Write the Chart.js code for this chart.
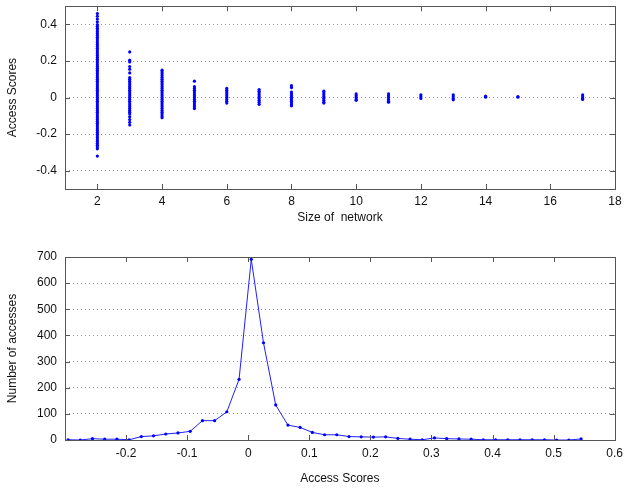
<!DOCTYPE html>
<html>
<head>
<meta charset="utf-8">
<script src="https://cdn.jsdelivr.net/npm/chart.js@4.4.1/dist/chart.umd.min.js"></script>
<style>
  body { margin: 0; background: #fff; overflow: hidden; }
  #top { position: absolute; left: 0; top: -9px; }
  #bottom { position: absolute; left: 0; top: 240px; }
</style>
</head>
<body>
<canvas id="top" width="629" height="244"></canvas>
<canvas id="bottom" width="629" height="249"></canvas>
<script>
// top plot: access scores per network size
const scores2 = [0.46, 0.445, 0.43, 0.415, 0.40, 0.39, 0.38, 0.37, 0.36, 0.35, 0.34, 0.33, 0.32, 0.31, 0.30,
  0.29, 0.28, 0.27, 0.26, 0.25, 0.24, 0.23, 0.22, 0.21, 0.20, 0.19, 0.18, 0.17, 0.16, 0.15, 0.14, 0.13,
  0.12, 0.11, 0.10, 0.09, 0.08, 0.07, 0.06, 0.05, 0.04, 0.03, 0.02, 0.01, 0.00, -0.01, -0.02, -0.03,
  -0.04, -0.05, -0.06, -0.07, -0.08, -0.09, -0.10, -0.11, -0.12, -0.13, -0.14, -0.15, -0.16, -0.17,
  -0.18, -0.19, -0.20, -0.21, -0.22, -0.23, -0.24, -0.25, -0.26, -0.27, -0.28, -0.32];
const scores3 = [0.25, 0.205, 0.195, 0.17, 0.155, 0.135, 0.11, 0.10, 0.09, 0.08, 0.07, 0.06, 0.05, 0.04,
  0.03, 0.02, 0.01, 0.00, -0.01, -0.02, -0.03, -0.04, -0.05, -0.06, -0.07, -0.08, -0.09, -0.105, -0.12,
  -0.135, -0.15];
const scores4 = [0.15, 0.14, 0.13, 0.12, 0.11, 0.10, 0.09, 0.08, 0.07, 0.06, 0.05, 0.04, 0.03, 0.02, 0.01,
  0.00, -0.01, -0.02, -0.03, -0.04, -0.05, -0.06, -0.07, -0.08, -0.09, -0.10, -0.11];
const scores5 = [0.09, 0.06, 0.05, 0.04, 0.03, 0.02, 0.01, 0.00, -0.01, -0.02, -0.03, -0.04, -0.05, -0.06];
const scores6 = [0.05, 0.04, 0.03, 0.02, 0.01, 0.00, -0.01, -0.02, -0.03];
const scores7 = [0.044, 0.035, 0.025, 0.015, 0.005, -0.005, -0.015, -0.025, -0.037];
const scores8 = [0.065, 0.055, 0.03, 0.02, 0.01, 0.00, -0.01, -0.02, -0.03, -0.04, -0.045];
const scores9 = [0.035, 0.025, 0.015, 0.005, -0.005, -0.015, -0.025, -0.03];
const scores10 = [0.02, 0.01, 0.00, -0.01, -0.015];
const scores11 = [0.02, 0.01, 0.00, -0.01, -0.02, -0.025];
const scores12 = [0.015, 0.005, -0.005];
const scores13 = [0.015, 0.005, -0.005, -0.012];
const scores14 = [0.008, 0.002];
const scores15 = [0.006, 0.002];
const scores17 = [0.015, 0.005, -0.005, -0.01];
const networkSizes = [2, 3, 4, 5, 6, 7, 8, 9, 10, 11, 12, 13, 14, 15, 17];
const scoresBySize = [scores2, scores3, scores4, scores5, scores6, scores7, scores8, scores9, scores10,
  scores11, scores12, scores13, scores14, scores15, scores17];
const topXTicks = [2, 4, 6, 8, 10, 12, 14, 16, 18];
const topYTicks = [-0.4, -0.2, 0, 0.2, 0.4];

// bottom plot: histogram of access scores
const binCenters = [-0.295, -0.275, -0.255, -0.235, -0.215, -0.195, -0.175, -0.155, -0.135, -0.115,
  -0.095, -0.075, -0.055, -0.035, -0.015, 0.005, 0.025, 0.045, 0.065, 0.085, 0.105, 0.125, 0.145,
  0.165, 0.185, 0.205, 0.225, 0.245, 0.265, 0.285, 0.305, 0.325, 0.345, 0.365, 0.385, 0.405, 0.425,
  0.445, 0.465, 0.485, 0.505, 0.525, 0.545];
const accessCounts = [1, 0, 5, 3, 3, 1, 13, 16, 23, 27, 33, 74, 74, 108, 232, 691, 372, 134, 57, 48, 29,
  20, 20, 13, 12, 11, 12, 6, 3, 1, 8, 5, 4, 3, 1, 1, 1, 1, 1, 1, 0, 0, 4];
const bottomXTicks = [-0.2, -0.1, 0, 0.1, 0.2, 0.3, 0.4, 0.5, 0.6];
const bottomYTicks = [0, 100, 200, 300, 400, 500, 600, 700];

Chart.defaults.font.family = "'Liberation Sans', Arial, sans-serif";
Chart.defaults.font.size = 12;
Chart.defaults.color = '#111';

const framePlugin = {
  id: 'frame',
  afterDraw(chart) {
    const ctx = chart.ctx;
    const a = chart.chartArea;
    const xs = chart.scales.x, ys = chart.scales.y;
    ctx.save();
    ctx.strokeStyle = '#555';
    ctx.lineWidth = 1;
    ctx.beginPath();
    xs.ticks.forEach(t => {
      const px = Math.round(xs.getPixelForValue(t.value)) + 0.5;
      ctx.moveTo(px, a.top); ctx.lineTo(px, a.top + 5);
      ctx.moveTo(px, a.bottom); ctx.lineTo(px, a.bottom - 5);
    });
    ys.ticks.forEach(t => {
      const py = Math.round(ys.getPixelForValue(t.value)) + 0.5;
      ctx.moveTo(a.left, py); ctx.lineTo(a.left + 5, py);
      ctx.moveTo(a.right, py); ctx.lineTo(a.right - 5, py);
    });
    ctx.stroke();
    ctx.strokeRect(Math.round(a.left) + 0.5, Math.round(a.top) + 0.5,
      Math.round(a.right - a.left), Math.round(a.bottom - a.top));
    ctx.restore();
  }
};

function axisOptions(o) {
  return {
    type: 'linear',
    min: o.min, max: o.max,
    afterBuildTicks: s => { s.ticks = o.ticks.map(v => ({ value: v })); },
    afterFit: s => { if (o.width) s.width = o.width; if (o.height) s.height = o.height; },
    ticks: { padding: o.pad, autoSkip: false, maxRotation: 0, callback: v => String(Math.round(v * 100) / 100) },
    grid: o.grid ? { color: '#999', lineWidth: 1, drawTicks: false } : { display: false, drawTicks: false },
    border: { display: false, dash: [1, 3] },
    title: { display: true, text: o.title, color: '#111', font: { size: 12 }, padding: o.titlePad }
  };
}

const scatterPoints = [];
networkSizes.forEach((n, i) => {
  scoresBySize[i].forEach(v => scatterPoints.push({ x: n, y: v }));
});

new Chart(document.getElementById('top'), {
  type: 'scatter',
  data: {
    datasets: [{
      data: scatterPoints,
      backgroundColor: '#0000ff',
      borderColor: '#0000ff',
      pointRadius: 1.6,
      borderWidth: 0
    }]
  },
  options: {
    responsive: false,
    animation: false,
    layout: { padding: { top: 6, right: 14, left: 0, bottom: 0 } },
    plugins: { legend: { display: false }, tooltip: { enabled: false } },
    scales: {
      x: axisOptions({ min: 1, max: 18, ticks: topXTicks, height: 46, pad: 5, grid: false,
        title: 'Size of  network', titlePad: { top: 0, bottom: 10 } }),
      y: axisOptions({ min: -0.5, max: 0.5, ticks: topYTicks, width: 65, pad: 8, grid: true,
        title: 'Access Scores', titlePad: { top: 5, bottom: 0 } })
    }
  },
  plugins: [framePlugin]
});

new Chart(document.getElementById('bottom'), {
  type: 'line',
  data: {
    datasets: [{
      data: binCenters.map((x, i) => ({ x: x, y: accessCounts[i] })),
      borderColor: '#2020ff',
      backgroundColor: '#0000ff',
      borderWidth: 1,
      pointRadius: 1.6,
      pointBorderWidth: 0,
      tension: 0,
      fill: false
    }]
  },
  options: {
    responsive: false,
    animation: false,
    layout: { padding: { top: 17, right: 14, left: 0, bottom: 0 } },
    plugins: { legend: { display: false }, tooltip: { enabled: false } },
    scales: {
      x: axisOptions({ min: -0.3, max: 0.6, ticks: bottomXTicks, height: 49, pad: 6, grid: false,
        title: 'Access Scores', titlePad: { top: 0, bottom: 3 } }),
      y: axisOptions({ min: 0, max: 700, ticks: bottomYTicks, width: 65, pad: 8, grid: true,
        title: 'Number of accesses', titlePad: { top: 5, bottom: 0 } })
    }
  },
  plugins: [framePlugin]
});
</script>
</body>
</html>
